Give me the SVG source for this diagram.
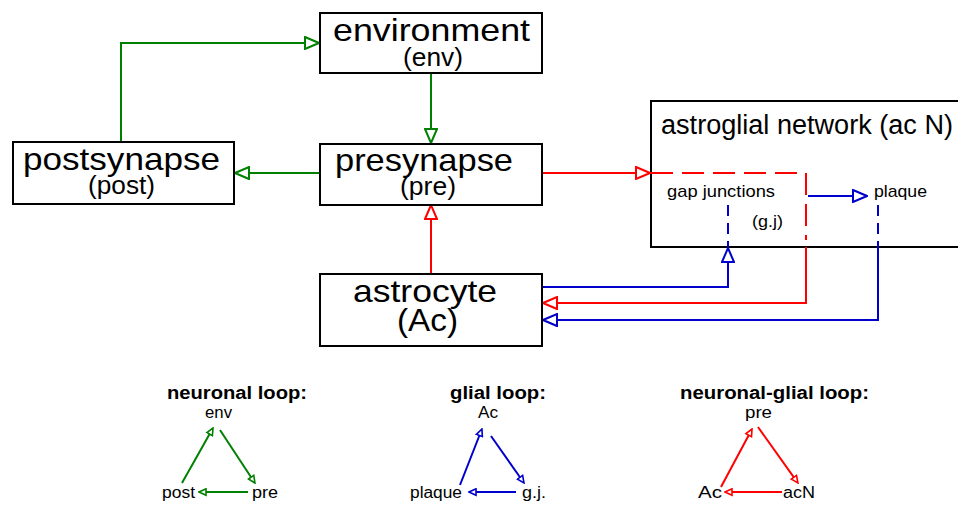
<svg xmlns="http://www.w3.org/2000/svg" width="958" height="505" viewBox="0 0 958 505">
<style>
text{font-family:"Liberation Sans",Arial,sans-serif;fill:#000}
.box{fill:#fff;stroke:#000;stroke-width:2}
.big{font-size:32px}
.sub{font-size:26px}
.mid{font-size:27px}
.sm{font-size:17px}
.lg{font-size:16px}
.hd{font-size:18px;font-weight:bold}
.g{stroke:#008000;stroke-width:2;fill:none}
.r{stroke:#ff0000;stroke-width:2;fill:none}
.b{stroke:#0000cc;stroke-width:2;fill:none}
.d1{stroke-dasharray:22,9}
.d2{stroke-dasharray:11,7}
.hg{fill:#fff;stroke:#008000;stroke-width:2}
.hr{fill:#fff;stroke:#ff0000;stroke-width:2}
.hb{fill:#fff;stroke:#0000cc;stroke-width:2}
.sg{fill:#fff;stroke:#008000;stroke-width:1.6}
.sr{fill:#fff;stroke:#ff0000;stroke-width:1.6}
.sb{fill:#fff;stroke:#0000cc;stroke-width:1.6}
</style>
<defs>
<marker id="mg" markerUnits="userSpaceOnUse" markerWidth="16" markerHeight="14" refX="1" refY="7" orient="auto" viewBox="0 0 16 14"><path d="M1,1 L15,7 L1,13 Z" class="hg"/></marker>
<marker id="mr" markerUnits="userSpaceOnUse" markerWidth="16" markerHeight="14" refX="1" refY="7" orient="auto" viewBox="0 0 16 14"><path d="M1,1 L15,7 L1,13 Z" class="hr"/></marker>
<marker id="mb" markerUnits="userSpaceOnUse" markerWidth="16" markerHeight="14" refX="1" refY="7" orient="auto" viewBox="0 0 16 14"><path d="M1,1 L15,7 L1,13 Z" class="hb"/></marker>
<marker id="sg" markerUnits="userSpaceOnUse" markerWidth="9" markerHeight="9" refX="1" refY="4.5" orient="auto" viewBox="0 0 9 9"><path d="M1,1.3 L8,4.5 L1,7.7 Z" class="sg"/></marker>
<marker id="sr" markerUnits="userSpaceOnUse" markerWidth="9" markerHeight="9" refX="1" refY="4.5" orient="auto" viewBox="0 0 9 9"><path d="M1,1.3 L8,4.5 L1,7.7 Z" class="sr"/></marker>
<marker id="sb" markerUnits="userSpaceOnUse" markerWidth="9" markerHeight="9" refX="1" refY="4.5" orient="auto" viewBox="0 0 9 9"><path d="M1,1.3 L8,4.5 L1,7.7 Z" class="sb"/></marker>
</defs>
<rect width="958" height="505" fill="#fff"/>

<g id="astroglial-network">
<rect class="box" x="651" y="101" width="330" height="146"/>
<text class="mid" x="661" y="134" textLength="292" lengthAdjust="spacingAndGlyphs">astroglial network (ac N)</text>
<text class="sm" x="667" y="197" textLength="108" lengthAdjust="spacingAndGlyphs">gap junctions</text>
<text class="sm" x="752" y="227" textLength="31" lengthAdjust="spacingAndGlyphs">(g.j)</text>
<text class="sm" x="874" y="197" textLength="53" lengthAdjust="spacingAndGlyphs">plaque</text>
</g>

<g id="connectors">
<path class="g" d="M121,141 V43 H305" marker-end="url(#mg)"/>
<path class="g" d="M431,74 V129" marker-end="url(#mg)"/>
<path class="g" d="M319,173 H249" marker-end="url(#mg)"/>
<path class="r" d="M431,273 V219" marker-end="url(#mr)"/>
<path class="r" d="M543,173 H636" marker-end="url(#mr)"/>
<path class="r d1" d="M651,173 H806 V240"/>
<path class="r" d="M806,247 V303 H557" marker-end="url(#mr)"/>
<path class="b" d="M543,287 H728 V262" marker-end="url(#mb)"/>
<path class="b d2" d="M728,205 V247"/>
<path class="b" d="M808,196 H853" marker-end="url(#mb)"/>
<path class="b d2" d="M878,205 V247"/>
<path class="b" d="M878,247 V320 H557" marker-end="url(#mb)"/>
</g>

<g id="environment">
<rect class="box" x="320" y="13" width="222" height="60"/>
<text class="big" x="333" y="41" textLength="197" lengthAdjust="spacingAndGlyphs">environment</text>
<text class="sub" x="403" y="66" textLength="60" lengthAdjust="spacingAndGlyphs">(env)</text>
</g>

<g id="postsynapse">
<rect class="box" x="13" y="142" width="221" height="62"/>
<text class="big" x="23" y="170" textLength="197" lengthAdjust="spacingAndGlyphs">postsynapse</text>
<text class="sub" x="88" y="194" textLength="67" lengthAdjust="spacingAndGlyphs">(post)</text>
</g>

<g id="presynapse">
<rect class="box" x="320" y="144" width="222" height="61"/>
<text class="big" x="335" y="171" textLength="178" lengthAdjust="spacingAndGlyphs">presynapse</text>
<text class="sub" x="400" y="195" textLength="56" lengthAdjust="spacingAndGlyphs">(pre)</text>
</g>

<g id="astrocyte">
<rect class="box" x="320" y="274" width="222" height="72"/>
<text class="big" x="353" y="302" textLength="144" lengthAdjust="spacingAndGlyphs">astrocyte</text>
<text class="big" x="397" y="331" textLength="61" lengthAdjust="spacingAndGlyphs">(Ac)</text>
</g>

<g id="neuronal-loop">
<text class="hd" x="167" y="399" textLength="140" lengthAdjust="spacingAndGlyphs">neuronal loop:</text>
<text class="lg" x="205" y="418" textLength="27" lengthAdjust="spacingAndGlyphs">env</text>
<text class="lg" x="162" y="498" textLength="33" lengthAdjust="spacingAndGlyphs">post</text>
<text class="lg" x="252" y="498" textLength="26" lengthAdjust="spacingAndGlyphs">pre</text>
<path class="g" d="M182,483 L209.6,434.1" marker-end="url(#sg)"/>
<path class="g" d="M220,430 L251.1,477.2" marker-end="url(#sg)"/>
<path class="g" d="M248,492 H206" marker-end="url(#sg)"/>
</g>

<g id="glial-loop">
<text class="hd" x="450" y="399" textLength="96" lengthAdjust="spacingAndGlyphs">glial loop:</text>
<text class="lg" x="478" y="418" textLength="20" lengthAdjust="spacingAndGlyphs">Ac</text>
<text class="lg" x="410" y="498" textLength="52" lengthAdjust="spacingAndGlyphs">plaque</text>
<text class="lg" x="522" y="498" textLength="24" lengthAdjust="spacingAndGlyphs">g.j.</text>
<path class="b" d="M460,485 L479.4,435.5" marker-end="url(#sb)"/>
<path class="b" d="M491,436 L520,477.3" marker-end="url(#sb)"/>
<path class="b" d="M516,492 H476" marker-end="url(#sb)"/>
</g>

<g id="neuronal-glial-loop">
<text class="hd" x="680" y="399" textLength="189" lengthAdjust="spacingAndGlyphs">neuronal-glial loop:</text>
<text class="lg" x="745" y="418" textLength="27" lengthAdjust="spacingAndGlyphs">pre</text>
<text class="lg" x="698" y="498" textLength="24" lengthAdjust="spacingAndGlyphs">Ac</text>
<text class="lg" x="783" y="498" textLength="32" lengthAdjust="spacingAndGlyphs">acN</text>
<path class="r" d="M721,487 L748.7,435.2" marker-end="url(#sr)"/>
<path class="r" d="M758,427 L793.9,477.3" marker-end="url(#sr)"/>
<path class="r" d="M782,492 H732" marker-end="url(#sr)"/>
</g>
</svg>
